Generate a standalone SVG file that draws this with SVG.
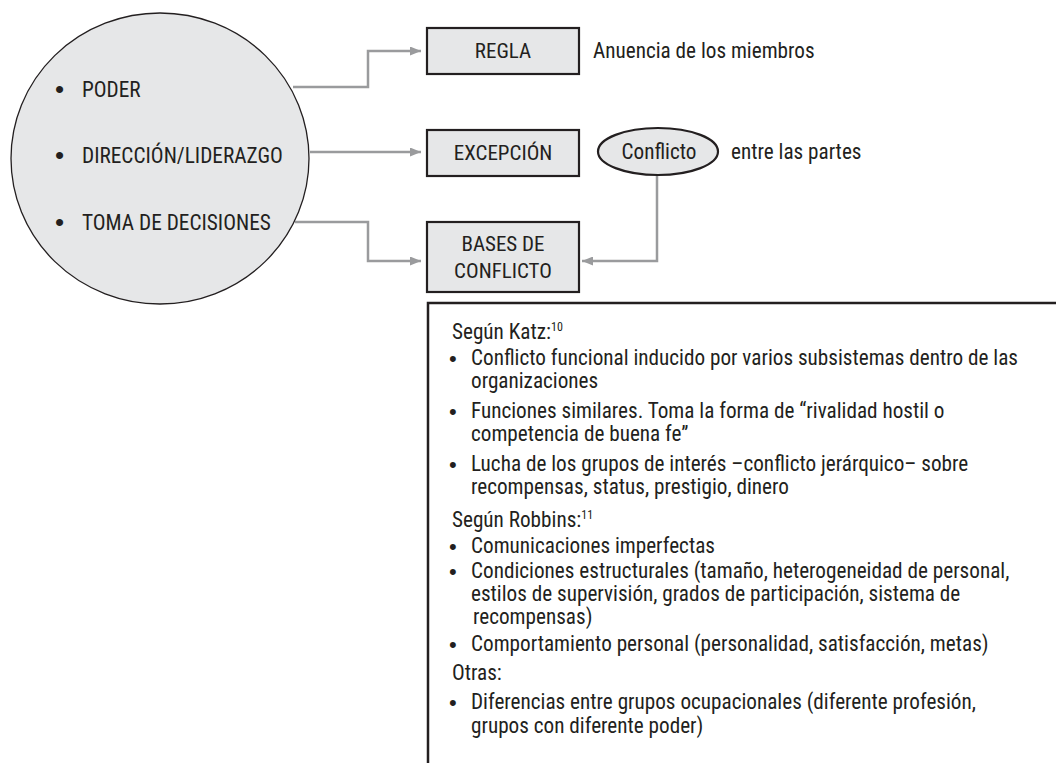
<svg xmlns="http://www.w3.org/2000/svg" width="1056" height="763" viewBox="0 0 1056 763">
<defs>
<style>
text{font-family:"Roboto Condensed","Liberation Sans",Arial,sans-serif;fill:#231f20}
.c{font-size:21.3px}
.b{font-size:21px;text-anchor:middle}
.t{font-size:21.2px}
.u{font-family:"Liberation Sans",Arial,sans-serif;font-size:26px}
.v{font-family:"Liberation Sans",Arial,sans-serif;font-size:22px}
.box{fill:#e6e7e8;stroke:#231f20;stroke-width:2.2}
.conn{fill:none;stroke:#9a9b9d;stroke-width:2.5}
</style>
<marker id="ah" markerUnits="userSpaceOnUse" markerWidth="11" markerHeight="9" refX="11" refY="4.5" orient="auto">
<path d="M0,0 L11,4.5 L0,9 Z" fill="#9a9b9d"/>
</marker>
</defs>
<rect width="1056" height="763" fill="#ffffff"/>

<g id="circle-node">
<ellipse cx="160" cy="158.5" rx="149" ry="145.5" fill="#e6e7e8" stroke="#231f20" stroke-width="1.3"/>
<text class="u" x="55" y="98">•</text><text class="c" x="82" y="97">PODER</text>
<text class="u" x="55" y="164">•</text><text class="c" x="82" y="163">DIRECCIÓN/LIDERAZGO</text>
<text class="u" x="55" y="231">•</text><text class="c" x="82" y="230">TOMA DE DECISIONES</text>
</g>

<g id="connectors">
<path class="conn" d="M293,87 H368 V51 H421" marker-end="url(#ah)"/>
<path class="conn" d="M310,152 H421" marker-end="url(#ah)"/>
<path class="conn" d="M295,222 H368 V261 H421" marker-end="url(#ah)"/>
<path class="conn" d="M657,175 V261 H582" marker-end="url(#ah)"/>
</g>

<g id="regla">
<rect class="box" x="427" y="28" width="152" height="46"/>
<text class="b" x="503" y="58">REGLA</text>
</g>
<g id="regla-label">
<text class="t" x="593" y="58">Anuencia de los miembros</text>
</g>

<g id="excepcion">
<rect class="box" x="427" y="130" width="152" height="46"/>
<text class="b" x="503" y="160">EXCEPCIÓN</text>
</g>

<g id="conflicto">
<ellipse cx="658" cy="151.5" rx="60" ry="23.5" fill="#e6e7e8" stroke="#231f20" stroke-width="2.2"/>
<text class="t" x="659" y="159" text-anchor="middle">Conflicto</text>
</g>
<g id="conflicto-label">
<text class="t" x="731" y="159">entre las partes</text>
</g>

<g id="bases">
<rect class="box" x="427" y="222" width="152" height="70"/>
<text class="b" x="503" y="251">BASES DE</text>
<text class="b" x="503" y="278">CONFLICTO</text>
</g>

<g id="detail-box">
<path d="M428,763 V303 H1056" fill="none" stroke="#231f20" stroke-width="2.5"/>
<text class="t" x="452" y="339">Según Katz:<tspan font-size="12" dy="-8">10</tspan></text>
<text class="v" x="449" y="366">•</text><text class="t" x="471" y="365">Conflicto funcional inducido por varios subsistemas dentro de las</text>
<text class="t" x="471" y="388">organizaciones</text>
<text class="v" x="449" y="419">•</text><text class="t" x="471" y="418">Funciones similares. Toma la forma de “rivalidad hostil o</text>
<text class="t" x="471" y="441">competencia de buena fe”</text>
<text class="v" x="449" y="472">•</text><text class="t" x="471" y="471">Lucha de los grupos de interés –conflicto jerárquico– sobre</text>
<text class="t" x="471" y="494">recompensas, status, prestigio, dinero</text>
<text class="t" x="452" y="527">Según Robbins:<tspan font-size="12" dy="-8">11</tspan></text>
<text class="v" x="449" y="554">•</text><text class="t" x="471" y="553">Comunicaciones imperfectas</text>
<text class="v" x="449" y="579">•</text><text class="t" x="471" y="578">Condiciones estructurales (tamaño, heterogeneidad de personal,</text>
<text class="t" x="471" y="601">estilos de supervisión, grados de participación, sistema de</text>
<text class="t" x="473" y="624">recompensas)</text>
<text class="v" x="449" y="652">•</text><text class="t" x="471" y="651">Comportamiento personal (personalidad, satisfacción, metas)</text>
<text class="t" x="452" y="680">Otras:</text>
<text class="v" x="449" y="710">•</text><text class="t" x="471" y="709">Diferencias entre grupos ocupacionales (diferente profesión,</text>
<text class="t" x="471" y="733">grupos con diferente poder)</text>
</g>
</svg>
